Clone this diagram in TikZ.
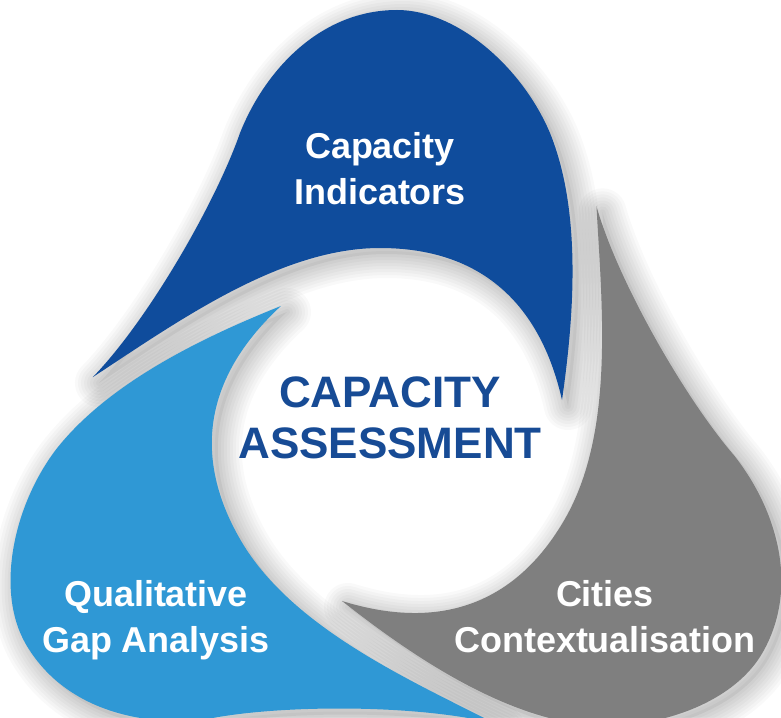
\documentclass[tikz,border=0pt]{standalone}
\usepackage{fontspec}
\setmainfont{Liberation Sans}
\definecolor{cadark}{HTML}{0F4C9C}
\definecolor{calight}{HTML}{2F98D5}
\definecolor{cagray}{HTML}{7F7F7F}
\definecolor{catext}{HTML}{174B95}
\newcommand\petalpath{(-301,60) .. controls (-245,118) and (-178,235) .. (-154,304)
 .. controls (-128,369) and (-72,427) .. (3,427)
 .. controls (63,427) and (128,370) .. (156,304)
 .. controls (188,225) and (180,120) .. (168,37)
 .. controls (146,134.6) and (86,189) .. (-14,189)
 .. controls (-114,189) and (-217,115) .. (-301,60) -- cycle}
\tikzset{
  lbl/.style={anchor=north, inner sep=0pt, align=center, text=white,
    font=\bfseries\fontsize{30.7}{39.2}\selectfont},
  ctr/.style={anchor=north, inner sep=0pt, align=center, text=catext,
    font=\bfseries\fontsize{37.6}{42.7}\selectfont},
}
\begin{document}
\begin{tikzpicture}[x=0.03cm,y=0.03cm]
\useasboundingbox (-394,-280) rectangle (387,437);
\begin{scope}
\clip (-394,-280) rectangle (387,437);
\fill[white] (-394,-280) rectangle (387,437);
% soft drop shadows
\foreach \ang/\dx/\dy in {0/0/0,120/3/4,-120/0/0}{
  \foreach \w in {48,42,36,30,24,18,12,6}{
    \draw[shift={(6+\dx,-6+\dy)}, rotate=\ang, black, opacity=0.024, line width={\w*0.3mm}, line join=round]
      \petalpath;
  }
  \fill[shift={(6+\dx,-6+\dy)}, rotate=\ang, black, opacity=0.05] \petalpath;
}
% petals
\foreach \ang/\dx/\dy/\col in {0/0/0/cadark,120/3/4/calight,-120/0/0/cagray}{
  \fill[\col, shift={(\dx,\dy)}, rotate=\ang] \petalpath;
}
\end{scope}
\node[lbl] (ci) at (-14,305) {Capacity\\Indicators};
\node[lbl] (qg) at (-238,-143) {Qualitative\\Gap Analysis};
\node[lbl] (cc) at (211,-143) {Cities\\Contextualisation};
\node[ctr] (ca) at (-4,60) {CAPACITY\\ASSESSMENT};
\end{tikzpicture}
\end{document}
